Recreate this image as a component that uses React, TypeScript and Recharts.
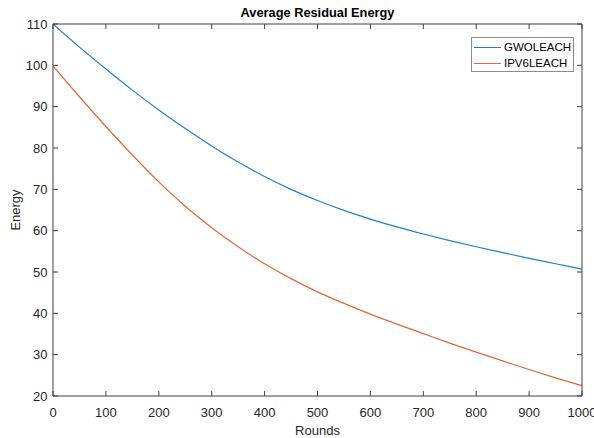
import { Legend, Line, LineChart, XAxis, YAxis, Label } from "recharts";

const ROUNDS = [0, 50, 100, 150, 200, 250, 300, 350, 400, 450, 500, 550, 600, 650, 700, 750, 800, 850, 900, 950, 1000];
const GWOLEACH = [110, 104.4, 99.1, 94.0, 89.2, 84.7, 80.5, 76.6, 73.1, 70.0, 67.3, 64.9, 62.8, 60.9, 59.2, 57.6, 56.1, 54.7, 53.3, 52.0, 50.7];
const IPV6LEACH = [99.8, 92.4, 85.2, 78.3, 71.8, 65.9, 60.7, 56.1, 52.0, 48.4, 45.2, 42.4, 39.8, 37.4, 35.1, 32.8, 30.6, 28.5, 26.4, 24.4, 22.5];

const X_TICKS = [0, 100, 200, 300, 400, 500, 600, 700, 800, 900, 1000];
const Y_TICKS = [20, 30, 40, 50, 60, 70, 80, 90, 100, 110];

const SERIES = [
  { key: "gwo", name: "GWOLEACH", color: "#1f80c8" },
  { key: "ipv6", name: "IPV6LEACH", color: "#e0683a" },
];

const data = ROUNDS.map((round, i) => ({ round, gwo: GWOLEACH[i], ipv6: IPV6LEACH[i] }));

const FONT = "'Liberation Sans', Arial, Helvetica, sans-serif";
const AXIS_COLOR = "#404040";
const TEXT_COLOR = "#262626";
const TICK_FONT = { fontSize: 13, fill: TEXT_COLOR, fontFamily: FONT };

// matlab ticks point inward; the top/right axes only carry tick marks (size 1 so they still render)
const noLabel = () => <g />;

function LegendBox() {
  return (
    <div
      style={{
        width: 103,
        height: 35,
        border: "1px solid #8c8c8c",
        background: "#fff",
        fontFamily: FONT,
        fontSize: 11.5,
        color: "#000",
        boxSizing: "border-box",
        padding: "2px 0 0 2px",
      }}
    >
      {SERIES.map((s) => (
        <div key={s.key} style={{ display: "flex", alignItems: "center", height: 15.5 }}>
          <span style={{ display: "inline-block", width: 27, height: 1, background: s.color }} />
          <span style={{ marginLeft: 3, lineHeight: "15px" }}>{s.name}</span>
        </div>
      ))}
    </div>
  );
}

export default function App() {
  return (
    <div style={{ position: "absolute", left: 0, top: 0, width: 594, height: 438, background: "#fff" }}>
      <LineChart width={594} height={438} data={data} margin={{ top: 23, right: 11, left: 0, bottom: 0 }}>
        <XAxis
          dataKey="round"
          type="number"
          domain={[0, 1000]}
          ticks={X_TICKS}
          allowDataOverflow
          height={42}
          stroke={AXIS_COLOR}
          tickSize={-5}
          tickMargin={16.5}
          tick={TICK_FONT}
          interval={0}
        >
          <Label value="Rounds" position="insideBottom" offset={3} fill={TEXT_COLOR} fontSize={13} fontFamily={FONT} />
        </XAxis>
        <XAxis
          xAxisId="top"
          orientation="top"
          dataKey="round"
          type="number"
          domain={[0, 1000]}
          ticks={X_TICKS}
          allowDataOverflow
          height={1}
          stroke={AXIS_COLOR}
          tickSize={-5}
          tick={noLabel}
          interval={0}
        >
          <Label
            value="Average Residual Energy"
            position="top"
            offset={6}
            fill="#000"
            fontSize={12.8}
            fontWeight="bold"
            fontFamily={FONT}
          />
        </XAxis>
        <YAxis
          type="number"
          domain={[20, 110]}
          ticks={Y_TICKS}
          allowDataOverflow
          width={53}
          stroke={AXIS_COLOR}
          tickSize={-5}
          tickMargin={10.5}
          tick={TICK_FONT}
          interval={0}
        >
          <Label
            content={({ viewBox }: any) => (
              <text
                x={viewBox.x + 20}
                y={viewBox.y + viewBox.height / 2}
                transform={`rotate(-90, ${viewBox.x + 20}, ${viewBox.y + viewBox.height / 2})`}
                textAnchor="middle"
                fill={TEXT_COLOR}
                fontSize={13}
                fontFamily={FONT}
              >
                Energy
              </text>
            )}
          />
        </YAxis>
        <YAxis
          yAxisId="right"
          orientation="right"
          type="number"
          domain={[20, 110]}
          ticks={Y_TICKS}
          allowDataOverflow
          width={1}
          stroke={AXIS_COLOR}
          tickSize={-5}
          tick={noLabel}
          interval={0}
        />
        <Legend
          layout="horizontal"
          verticalAlign="middle"
          align="center"
          content={() => <LegendBox />}
          wrapperStyle={{ position: "absolute", top: 37, left: 471, width: 103 }}
        />
        {SERIES.map((s) => (
          <Line
            key={s.key}
            type="monotone"
            dataKey={s.key}
            name={s.name}
            stroke={s.color}
            strokeWidth={1.2}
            dot={false}
            activeDot={false}
            isAnimationActive={false}
          />
        ))}
      </LineChart>
    </div>
  );
}
